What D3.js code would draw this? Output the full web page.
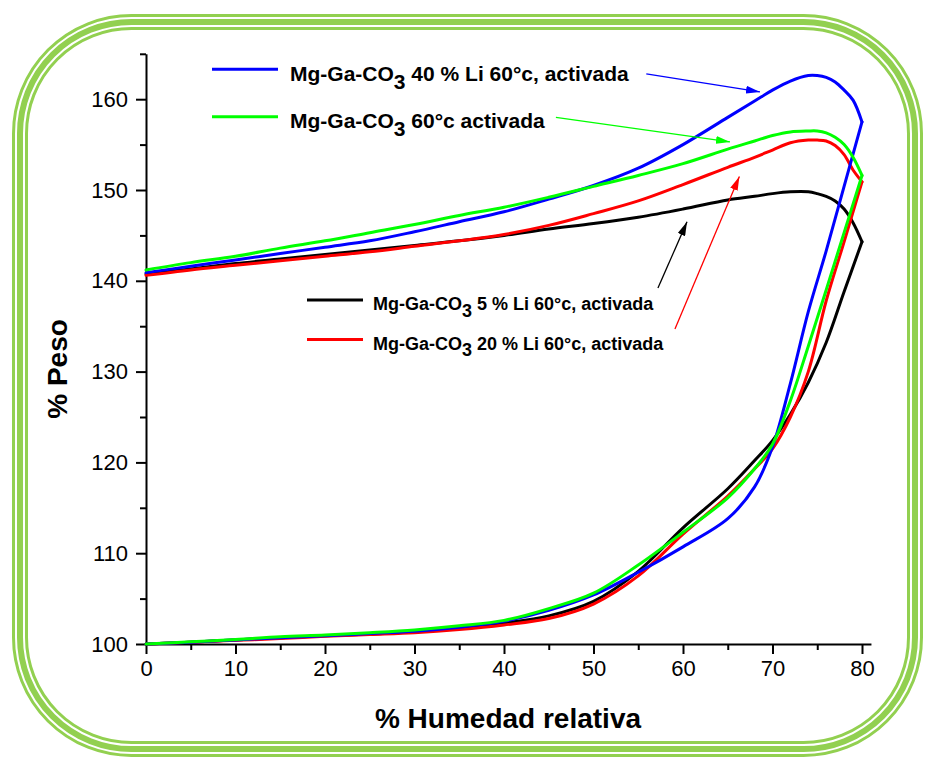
<!DOCTYPE html>
<html>
<head>
<meta charset="utf-8">
<script src="https://cdn.jsdelivr.net/npm/d3@7"></script>
<style>
  html, body { margin: 0; padding: 0; background: #fff; }
  svg { display: block; }
  text { font-family: Arial, "Liberation Sans", sans-serif; }
</style>
</head>
<body>
<svg id="chart" width="925" height="759"></svg>
<script>
// Relative humidity grid for the adsorption (rising) branch
const adsX = [0, 5, 10, 15, 20, 25, 30, 35, 40, 45, 50, 55, 60, 65, 68, 70, 72, 74, 76, 78, 80];
// Relative humidity grid for the desorption (falling) branch
const desX = [80, 79, 78, 77, 76, 75, 74, 72, 70, 68, 65, 60, 55, 50, 45, 40, 35, 30, 25, 20, 15, 10, 5, 0];

// % weight, adsorption branch
const adsLi5  = [100, 100.2, 100.45, 100.7, 100.9, 101.1, 101.35, 101.75, 102.3, 103.1, 104.7, 108.0, 112.8, 117.1, 120.2, 122.4, 125.3, 128.8, 133.2, 138.8, 144.3];
const adsLi20 = [100, 100.2, 100.4, 100.6, 100.85, 101.05, 101.25, 101.6, 102.1, 102.8, 104.4, 107.5, 112.1, 116.3, 119.3, 121.5, 125.0, 130.0, 137.8, 144.3, 150.9];
const adsLi40 = [100, 100.2, 100.45, 100.7, 100.9, 101.15, 101.4, 101.85, 102.5, 103.7, 105.4, 107.9, 110.7, 113.8, 117.3, 121.7, 128.7, 136.6, 143.3, 150.4, 157.5];
const ads60c  = [100, 100.25, 100.5, 100.8, 101.0, 101.25, 101.55, 102.0, 102.6, 103.9, 105.6, 108.7, 112.3, 116.1, 119.3, 122.0, 126.8, 132.8, 139.0, 145.3, 151.6];

// % weight, desorption branch
const desLi5  = [144.3, 146.4, 147.9, 148.8, 149.3, 149.6, 149.8, 149.8, 149.6, 149.3, 148.9, 147.9, 147.0, 146.3, 145.7, 145.0, 144.4, 143.9, 143.4, 142.9, 142.4, 141.9, 141.3, 140.75];
const desLi20 = [150.9, 152.2, 153.9, 154.9, 155.4, 155.5, 155.5, 155.2, 154.4, 153.6, 152.5, 150.6, 148.8, 147.4, 146.1, 145.1, 144.4, 143.8, 143.2, 142.7, 142.2, 141.7, 141.2, 140.6];
const desLi40 = [157.5, 159.9, 161.0, 161.9, 162.4, 162.6, 162.6, 162.0, 161.0, 159.8, 158.0, 155.0, 152.4, 150.5, 149.0, 147.6, 146.5, 145.4, 144.4, 143.7, 143.0, 142.3, 141.6, 140.9];
const des60c  = [151.6, 153.6, 155.0, 155.8, 156.3, 156.5, 156.5, 156.4, 156.0, 155.4, 154.5, 152.9, 151.6, 150.4, 149.2, 148.1, 147.2, 146.2, 145.3, 144.4, 143.6, 142.7, 142.0, 141.2];

// Series names (text before and after the subscript) and colours
const seriesKeys   = ["li5", "li20", "li40", "c60"];
const seriesPrefix = "Mg-Ga-CO";
const seriesSub    = "3";
const seriesSuffix = [" 5 % Li 60°c, activada", " 20 % Li 60°c, activada", " 40 % Li 60°c, activada", " 60°c activada"];
const seriesColor  = ["#000000", "#ff0000", "#0000ff", "#00ff00"];

// Axis ticks
const xMajorTicks = [0, 10, 20, 30, 40, 50, 60, 70, 80];
const xMinorTicks = [5, 15, 25, 35, 45, 55, 65, 75];
const yMajorTicks = [100, 110, 120, 130, 140, 150, 160];
const yMinorTicks = [105, 115, 125, 135, 145, 155, 165];

// Arrow annotations, start and end in data units (humidity, weight)
const arrowSeries = ["li40", "c60", "li5", "li20"];
const arrowFrom = [[55.9, 162.8], [45.8, 158.0], [57.2, 139.2], [59.1, 134.7]];
const arrowTo   = [[68.6, 160.8], [65.25, 155.3], [60.45, 146.5], [66.3, 151.5]];

const adsY = [adsLi5, adsLi20, adsLi40, ads60c];
const desY = [desLi5, desLi20, desLi40, des60c];

const svg = d3.select("#chart");
svg.append("rect").attr("width", 925).attr("height", 759).attr("fill", "#fff");

// Decorative triple rounded frame
const frameGreen = "#92d050";
[
  { x: 13.5, y: 15.5, w: 908, h: 740, r: 118, sw: 3 },
  { x: 20,   y: 22,   w: 895, h: 727, r: 111.5, sw: 6 },
  { x: 26.5, y: 28.5, w: 882, h: 714, r: 105, sw: 3 }
].forEach(f => {
  svg.append("rect")
    .attr("x", f.x).attr("y", f.y).attr("width", f.w).attr("height", f.h)
    .attr("rx", f.r).attr("ry", f.r)
    .attr("fill", "none").attr("stroke", frameGreen).attr("stroke-width", f.sw);
});

// Scales
const x = d3.scaleLinear().domain([0, 81]).range([146, 146 + 81 * 8.95]);
const y = d3.scaleLinear().domain([100, 165]).range([644, 644 - 65 * 9.08]);

// Axes
const axisFont = 22;
const gx = svg.append("g").attr("transform", `translate(0,${y(100)})`);
gx.call(d3.axisBottom(x).tickValues(xMajorTicks).tickSize(10).tickPadding(6).tickSizeOuter(0).tickFormat(d3.format("d")));
const gxm = svg.append("g").attr("transform", `translate(0,${y(100)})`);
gxm.call(d3.axisBottom(x).tickValues(xMinorTicks).tickSize(6).tickSizeOuter(0).tickFormat(""));
gxm.select(".domain").remove();

const gy = svg.append("g").attr("transform", `translate(${x(0)},0)`);
gy.call(d3.axisLeft(y).tickValues(yMajorTicks).tickSize(10).tickPadding(8).tickSizeOuter(0).tickFormat(d3.format("d")));
const gym = svg.append("g").attr("transform", `translate(${x(0)},0)`);
gym.call(d3.axisLeft(y).tickValues(yMinorTicks).tickSize(6).tickSizeOuter(0).tickFormat(""));
gym.select(".domain").remove();

[gx, gxm, gy, gym].forEach(g => {
  g.selectAll(".domain").attr("stroke", "#000").attr("stroke-width", 2);
  g.selectAll(".tick line").attr("stroke", "#000").attr("stroke-width", 2);
  g.selectAll(".tick text").attr("fill", "#000").attr("font-size", axisFont)
    .attr("font-family", 'Arial, "Liberation Sans", sans-serif');
});

// Axis titles
svg.append("text")
  .attr("transform", `translate(67,369) rotate(-90)`)
  .attr("text-anchor", "middle").attr("font-weight", "bold").attr("font-size", 28)
  .text("% Peso");
svg.append("text")
  .attr("x", 508).attr("y", 728)
  .attr("text-anchor", "middle").attr("font-weight", "bold").attr("font-size", 28)
  .text("% Humedad relativa");

// Curves: each sample drawn as adsorption + desorption branches
const line = d3.line().x(d => x(d[0])).y(d => y(d[1])).curve(d3.curveCatmullRom.alpha(0.5));
const drawOrder = [0, 1, 2, 3];
const curves = svg.append("g").attr("fill", "none").attr("stroke-width", 3)
  .attr("stroke-linejoin", "round").attr("stroke-linecap", "round");
drawOrder.forEach(i => {
  const ads = adsX.map((v, k) => [v, adsY[i][k]]);
  const des = desX.map((v, k) => [v, desY[i][k]]);
  curves.append("path").attr("d", line(ads)).attr("stroke", seriesColor[i]);
  curves.append("path").attr("d", line(des)).attr("stroke", seriesColor[i]);
});

// Arrow annotations
const defs = svg.append("defs");
arrowSeries.forEach((key, j) => {
  const i = seriesKeys.indexOf(key);
  defs.append("marker")
    .attr("id", "head-" + key)
    .attr("viewBox", "0 0 14 8").attr("refX", 14).attr("refY", 4)
    .attr("markerWidth", 14).attr("markerHeight", 8)
    .attr("markerUnits", "userSpaceOnUse").attr("orient", "auto")
    .append("path").attr("d", "M0,0 L14,4 L0,8 Z").attr("fill", seriesColor[i]);
  svg.append("line")
    .attr("x1", x(arrowFrom[j][0])).attr("y1", y(arrowFrom[j][1]))
    .attr("x2", x(arrowTo[j][0])).attr("y2", y(arrowTo[j][1]))
    .attr("stroke", seriesColor[i]).attr("stroke-width", 1.3)
    .attr("marker-end", `url(#head-${key})`);
});

// Legends: two blocks with their own size
const legendBlocks = [
  { keys: ["li40", "c60"], lineX: 212, lineLen: 66, gap: 12, top: 69.3, step: 47.4, font: 21, base: 11.7, sub: 8 },
  { keys: ["li5", "li20"], lineX: 307, lineLen: 56, gap: 10, top: 300, step: 39.5, font: 18, base: 10, sub: 6.5 }
];
legendBlocks.forEach(b => {
  b.keys.forEach((key, r) => {
    const i = seriesKeys.indexOf(key);
    const ly = b.top + r * b.step;
    svg.append("line")
      .attr("x1", b.lineX).attr("x2", b.lineX + b.lineLen)
      .attr("y1", ly).attr("y2", ly)
      .attr("stroke", seriesColor[i]).attr("stroke-width", 3);
    const t = svg.append("text")
      .attr("x", b.lineX + b.lineLen + b.gap).attr("y", ly + b.base)
      .attr("font-weight", "bold").attr("font-size", b.font).attr("fill", "#000");
    t.append("tspan").text(seriesPrefix);
    t.append("tspan").attr("dy", b.sub).text(seriesSub);
    t.append("tspan").attr("dy", -b.sub).text(seriesSuffix[i]);
  });
});
</script>
</body>
</html>
